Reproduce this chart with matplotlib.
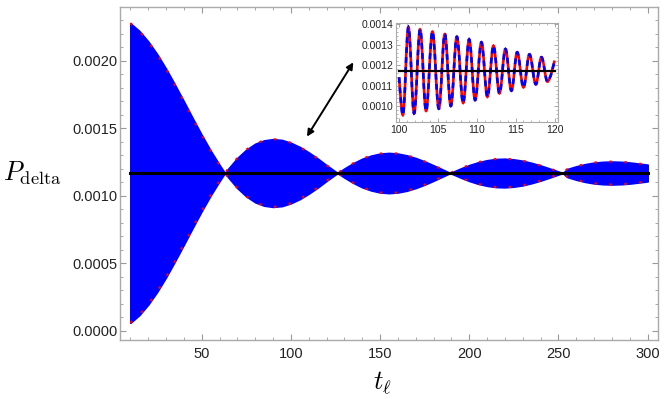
import matplotlib.pyplot as plt
from matplotlib.path import Path
from matplotlib.patches import PathPatch
from matplotlib.ticker import MultipleLocator
import numpy as np

plt.rcParams["mathtext.fontset"] = "cm"
plt.rcParams["font.family"] = ["Liberation Sans", "DejaVu Sans"]

# Mean value (black line)
P_MEAN = 0.00117

# Envelope of the fast oscillation
t_env = [10, 15, 20, 25, 30, 35, 40, 45, 50, 55, 60, 63.0,
         65, 70, 75, 80, 85, 90, 95, 100, 105, 110, 115, 120, 126.2,
         130, 135, 140, 145, 150, 155, 160, 165, 170, 175, 180, 185, 189.3,
         195, 200, 205, 210, 215, 220, 225, 230, 235, 240, 245, 252.4,
         255, 260, 265, 270, 275, 280, 285, 290, 295, 300]
amp_env = [0.001110, 0.001053, 0.000975, 0.000881, 0.000773, 0.000654, 0.000531,
           0.000405, 0.000282, 0.000166, 0.000060, 0.0,
           0.000034, 0.000112, 0.000173, 0.000217, 0.000242, 0.000251, 0.000245,
           0.000224, 0.000193, 0.000153, 0.000108, 0.000058, 0.0,
           0.000034, 0.000073, 0.000106, 0.000129, 0.000144, 0.000149, 0.000144,
           0.000131, 0.000111, 0.000086, 0.000057, 0.000027, 0.0,
           0.000033, 0.000059, 0.000080, 0.000095, 0.000104, 0.000106, 0.000101,
           0.000091, 0.000075, 0.000056, 0.000034, 0.0,
           0.000030, 0.000050, 0.000066, 0.000077, 0.000083, 0.000085, 0.000083,
           0.000078, 0.000070, 0.000062]

# Inset: start, alternating troughs/peaks, end (t in [100, 120])
inset_t = [100.0, 100.48, 101.20, 101.93, 102.70, 103.47, 104.29, 105.11, 105.88,
           106.65, 107.43, 108.24, 109.01, 109.78, 110.59, 111.36, 112.14, 112.91,
           113.68, 114.45, 115.19, 116.00, 116.77, 117.59, 118.31, 119.09, 120.0]
inset_p = [0.001140, 0.000956, 0.001384, 0.000964, 0.001374, 0.000976, 0.001363,
           0.000987, 0.001351, 0.001000, 0.001338, 0.001015, 0.001325, 0.001029,
           0.001311, 0.001045, 0.001294, 0.001062, 0.001278, 0.001075, 0.001262,
           0.001091, 0.001252, 0.001106, 0.001238, 0.001119, 0.001222]

t_env = np.array(t_env)
amp_env = np.array(amp_env)
upper = P_MEAN + amp_env
lower = P_MEAN - amp_env

W, H = 665, 399
fig = plt.figure(figsize=(W / 100, H / 100), dpi=100)
ax = fig.add_axes([120 / W, 1 - 340 / H, 538 / W, 333 / H])

ax.fill_between(t_env, lower, upper, color="#0000ff", lw=1.2, edgecolor="#0000ff", zorder=2)
# red curve peeking out at the tips
ax.plot(t_env, upper, color="red", lw=1.5, dashes=(1.2, 6), zorder=3)
ax.plot(t_env, lower, color="red", lw=1.5, dashes=(1.2, 6), zorder=3)
ax.plot([t_env[0], t_env[-1]], [P_MEAN, P_MEAN], color="black", lw=2.2, zorder=4)

ax.set_xlim(4.2, 305.8)
ax.set_ylim(-0.000067, 0.0024)
ax.xaxis.set_major_locator(MultipleLocator(50))
ax.xaxis.set_minor_locator(MultipleLocator(10))
ax.yaxis.set_major_locator(MultipleLocator(0.0005))
ax.yaxis.set_minor_locator(MultipleLocator(0.0001))
ax.xaxis.set_major_formatter(plt.FuncFormatter(lambda v, p: f"{v:.0f}"))
ax.yaxis.set_major_formatter(plt.FuncFormatter(lambda v, p: f"{v:.4f}"))
ax.set_xticks([50, 100, 150, 200, 250, 300])

ax.tick_params(which="both", direction="in", top=True, right=True,
               colors="#999999", labelcolor="#222222", labelsize=10.5)
ax.tick_params(which="major", length=4, width=0.8)
ax.tick_params(which="minor", length=2.2, width=0.6)
ax.tick_params(axis="x", pad=5)
ax.tick_params(axis="y", pad=2)
for s in ax.spines.values():
    s.set_color("#aaaaaa")
    s.set_linewidth(1.0)

ax.set_ylabel(r"$P_{\mathrm{delta}}$", fontsize=19, rotation=0, ha="right", va="center")
ax.yaxis.set_label_coords(-0.108, 0.5)
ax.set_xlabel(r"$t_{\ell}$", fontsize=19, va="center")
ax.xaxis.set_label_coords(0.487, -0.13)

# Arrow pointing to the zoomed window
ax.annotate("", xy=(135, 0.00199), xytext=(109, 0.00144),
            arrowprops=dict(arrowstyle="<|-|>", color="black", lw=1.4,
                            mutation_scale=10, shrinkA=0, shrinkB=0))

# Inset
axins = fig.add_axes([396 / W, 1 - 122 / H, 161.7 / W, 99 / H])


def smooth_path(ts, ps):
    verts = [(ts[0], ps[0])]
    codes = [Path.MOVETO]
    n = len(ts)
    for i in range(n - 1):
        t0, p0, t1, p1 = ts[i], ps[i], ts[i + 1], ps[i + 1]
        dt = t1 - t0
        c1 = (t0, p0) if i == 0 else (t0 + 0.364 * dt, p0)
        c2 = (t1, p1) if i == n - 2 else (t1 - 0.364 * dt, p1)
        verts += [c1, c2, (t1, p1)]
        codes += [Path.CURVE4] * 3
    return Path(verts, codes)


curve = smooth_path(inset_t, inset_p)
axins.add_patch(PathPatch(curve, facecolor="none", edgecolor="red", lw=1.9, zorder=2))
axins.add_patch(PathPatch(curve, facecolor="none", edgecolor="#0000ff", lw=1.9,
                          linestyle=(0, (2.2, 1.6)), zorder=3))
axins.plot([inset_t[0], inset_t[-1]], [P_MEAN, P_MEAN], color="black", lw=1.6, zorder=4)

axins.set_xlim(99.6, 120.4)
axins.set_ylim(0.000922, 0.001405)
axins.xaxis.set_major_locator(MultipleLocator(5))
axins.xaxis.set_minor_locator(MultipleLocator(1))
axins.yaxis.set_major_locator(MultipleLocator(0.0001))
axins.yaxis.set_minor_locator(MultipleLocator(0.00002))
axins.xaxis.set_major_formatter(plt.FuncFormatter(lambda v, p: f"{v:.0f}"))
axins.yaxis.set_major_formatter(plt.FuncFormatter(lambda v, p: f"{v:.4f}"))
axins.tick_params(which="both", direction="in", top=True, right=True,
                  colors="#999999", labelcolor="#222222", labelsize=7.5)
axins.tick_params(which="major", length=3, width=0.6, pad=2)
axins.tick_params(which="minor", length=1.5, width=0.5)
for s in axins.spines.values():
    s.set_color("#aaaaaa")
    s.set_linewidth(0.8)

fig.savefig("out.png", dpi=100)
